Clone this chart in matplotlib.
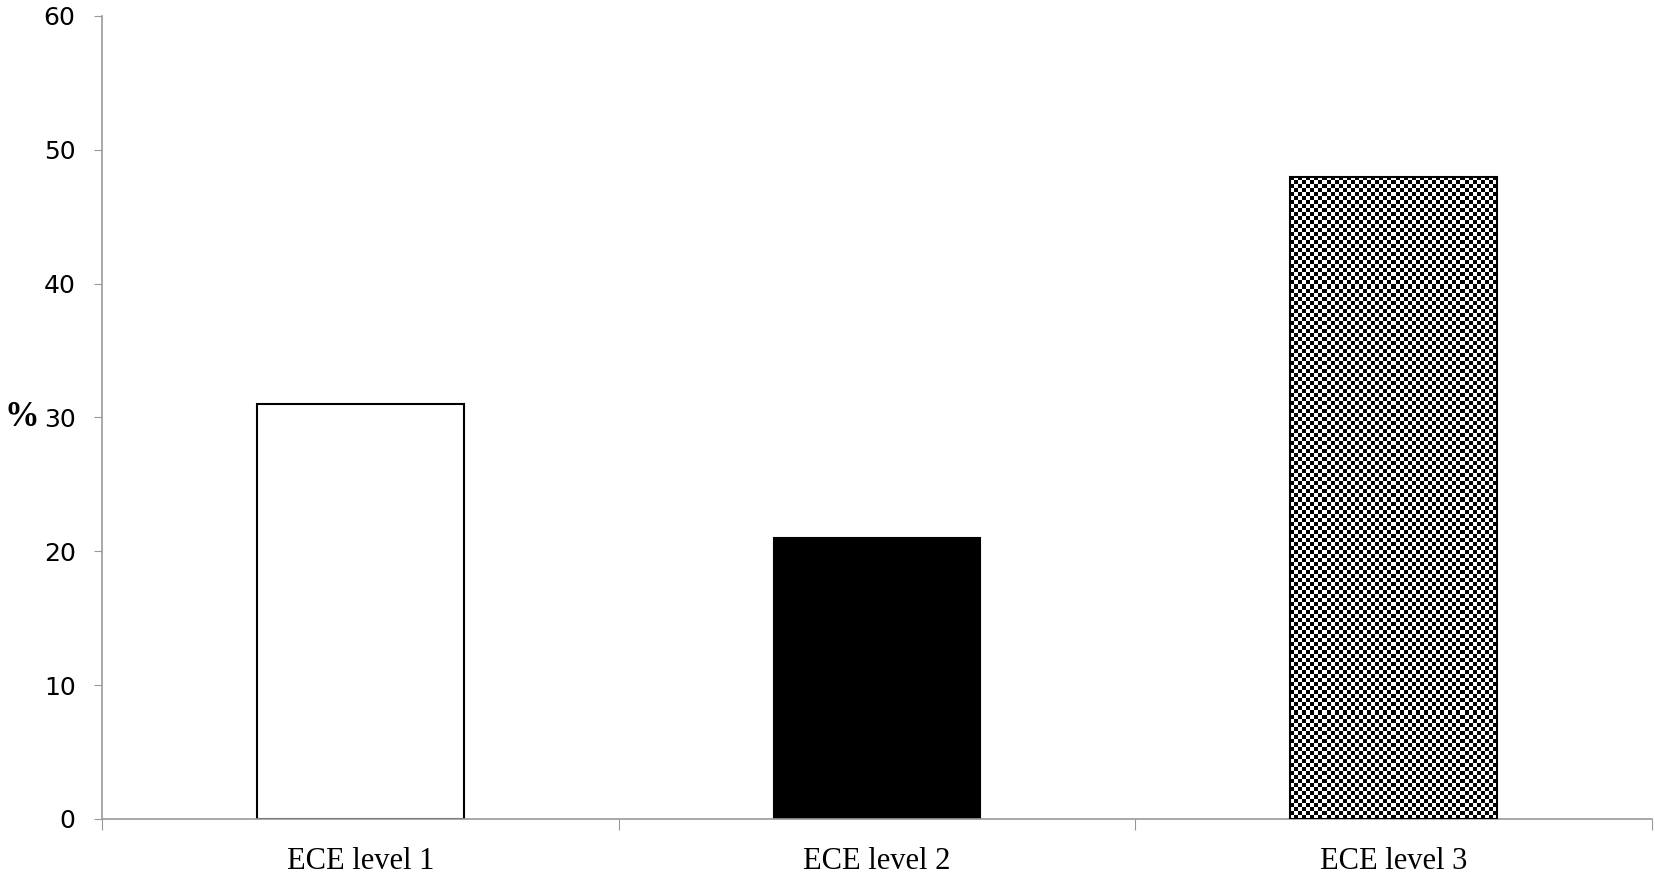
import matplotlib
matplotlib.use("Agg")
import matplotlib.pyplot as plt
import numpy as np

categories = ["ECE level 1", "ECE level 2", "ECE level 3"]
values = [31, 21, 48]
yticks = [0, 10, 20, 30, 40, 50, 60]

fig = plt.figure(figsize=(16.55, 8.73), dpi=100)
ax = fig.add_axes([0.0616, 0.0619, 0.9366, 0.9198])

x = np.arange(len(categories))
w = 0.4
bars = ax.bar(x, values, width=w, edgecolor="black", linewidth=1.5,
              facecolor="white", zorder=2)
bars[1].set_facecolor("black")

# checkerboard fill for the third bar
b = bars[2]
nx, ny = 51, 160
checker = (np.add.outer(np.arange(ny), np.arange(nx)) % 2).astype(float)
im = ax.imshow(checker, cmap="gray", interpolation="nearest", aspect="auto",
               extent=(x[2] - w / 2, x[2] + w / 2, 0, values[2]), zorder=2.5)
im.set_clip_path(b)
b.set_facecolor("none")
b.set_zorder(3)

ax.set_xlim(-0.5, len(categories) - 0.5)
ax.set_ylim(0, 60)
ax.set_yticks(yticks)
ax.set_xticks(np.arange(len(categories) + 1) - 0.5)
ax.set_xticklabels([])
ax.set_xticks(x, minor=True)
ax.set_xticklabels(categories, minor=True, family="Liberation Serif", fontsize=22)
ax.tick_params(axis="x", which="minor", length=0, pad=20)
ax.tick_params(axis="x", which="major", length=8, color="#999999", direction="out")
ax.tick_params(axis="y", length=6, color="#999999", labelsize=18, pad=13)

for s in ["top", "right"]:
    ax.spines[s].set_visible(False)
for s in ["left", "bottom"]:
    ax.spines[s].set_color("#999999")
    ax.spines[s].set_linewidth(1.2)

ax.set_ylabel("%", rotation=0, family="Liberation Serif", fontweight="bold",
              fontsize=25, labelpad=16, va="center")

fig.savefig("out.png", dpi=100)
